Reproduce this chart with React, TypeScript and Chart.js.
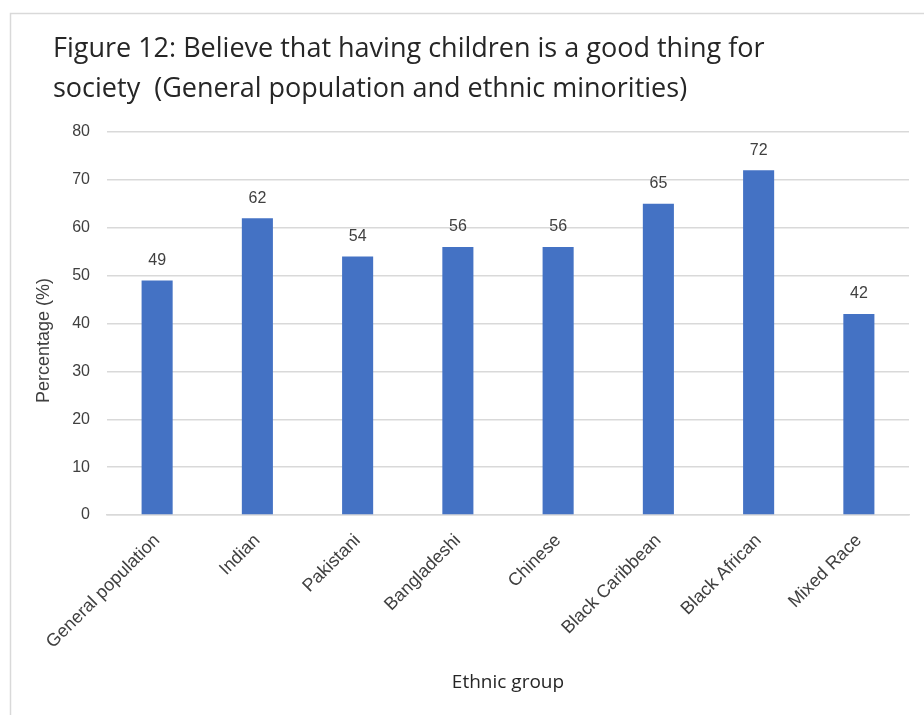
import React, { useEffect, useRef } from "react";
import { Chart, registerables } from "chart.js";

Chart.register(...registerables);

const categories = [
  "General population",
  "Indian",
  "Pakistani",
  "Bangladeshi",
  "Chinese",
  "Black Caribbean",
  "Black African",
  "Mixed Race",
];
const values = [49, 62, 54, 56, 56, 65, 72, 42];
const titleLines = [
  "Figure 12: Believe that having children is a good thing for",
  "society  (General population and ethnic minorities)",
];
const yAxisTitle = "Percentage (%)";
const xAxisTitle = "Ethnic group";

const W = 924;
const H = 715;

export default function App() {
  const ref = useRef<HTMLCanvasElement | null>(null);

  useEffect(() => {
    const canvas = ref.current;
    if (!canvas) return;

    const decor = {
      id: "decor",
      beforeDraw(chart: any) {
        const ctx = chart.ctx;
        ctx.save();
        ctx.fillStyle = "#ffffff";
        ctx.fillRect(0, 0, chart.width, chart.height);
        ctx.strokeStyle = "#d9d9d9";
        ctx.lineWidth = 1.5;
        ctx.beginPath();
        ctx.moveTo(10.5, chart.height);
        ctx.lineTo(10.5, 13.5);
        ctx.lineTo(chart.width, 13.5);
        ctx.stroke();
        ctx.restore();
      },
      afterDraw(chart: any) {
        const ctx = chart.ctx;
        ctx.save();
        // main title
        ctx.fillStyle = "#262626";
        ctx.font = "27px 'Open Sans', sans-serif";
        ctx.textAlign = "left";
        ctx.textBaseline = "alphabetic";
        titleLines.forEach((t, i) => ctx.fillText(t, 53, 57 + i * 40));
        // y axis title
        const area = chart.chartArea;
        ctx.fillStyle = "#404040";
        ctx.font = "18px 'Liberation Sans', Arial, sans-serif";
        ctx.translate(44, (area.top + area.bottom) / 2 + 17);
        ctx.rotate(-Math.PI / 2);
        ctx.textAlign = "center";
        ctx.textBaseline = "middle";
        ctx.fillText(yAxisTitle, 0, 0);
        ctx.restore();
        // data labels
        ctx.save();
        ctx.fillStyle = "#404040";
        ctx.font = "16px 'Liberation Sans', Arial, sans-serif";
        ctx.textAlign = "center";
        ctx.textBaseline = "middle";
        const meta = chart.getDatasetMeta(0);
        meta.data.forEach((bar: any, i: number) => {
          ctx.fillText(String(values[i]), bar.x, bar.y - 20);
        });
        ctx.restore();
      },
    };

    const chart = new Chart(canvas, {
      type: "bar",
      data: {
        labels: categories,
        datasets: [
          {
            data: values,
            backgroundColor: "#4472c4",
            barPercentage: 0.31,
            categoryPercentage: 1,
          },
        ],
      },
      options: {
        responsive: false,
        animation: false,
        layout: { padding: { left: 0, right: 15, top: 132, bottom: 0 } },
        plugins: {
          legend: { display: false },
          tooltip: { enabled: false },
          title: { display: false },
        },
        scales: {
          y: {
            min: 0,
            max: 80,
            ticks: {
              stepSize: 10,
              padding: 17,
              color: "#404040",
              font: { size: 16, family: "'Liberation Sans', Arial, sans-serif" },
            },
            grid: { color: "#d9d9d9", lineWidth: 1.5, drawTicks: false },
            border: { display: false },
            afterFit: (s: any) => {
              s.width = 107;
            },
          },
          x: {
            ticks: {
              minRotation: 45,
              maxRotation: 45,
              padding: 15,
              color: "#404040",
              font: { size: 18, family: "'Liberation Sans', Arial, sans-serif" },
            },
            grid: { display: false, drawTicks: false },
            border: { display: true, color: "#d9d9d9", width: 1.5 },
            title: {
              display: true,
              text: xAxisTitle,
              color: "#262626",
              font: { size: 19, family: "'Open Sans', sans-serif" },
              padding: { top: 0, bottom: 21 },
            },
            afterFit: (s: any) => {
              s.height = 200;
            },
          },
        },
      },
      plugins: [decor],
    } as any);

    return () => chart.destroy();
  }, []);

  return (
    <div style={{ position: "fixed", left: 0, top: 0, width: W, height: H, background: "#fff" }}>
      <canvas ref={ref} width={W} height={H} style={{ display: "block" }} />
    </div>
  );
}
